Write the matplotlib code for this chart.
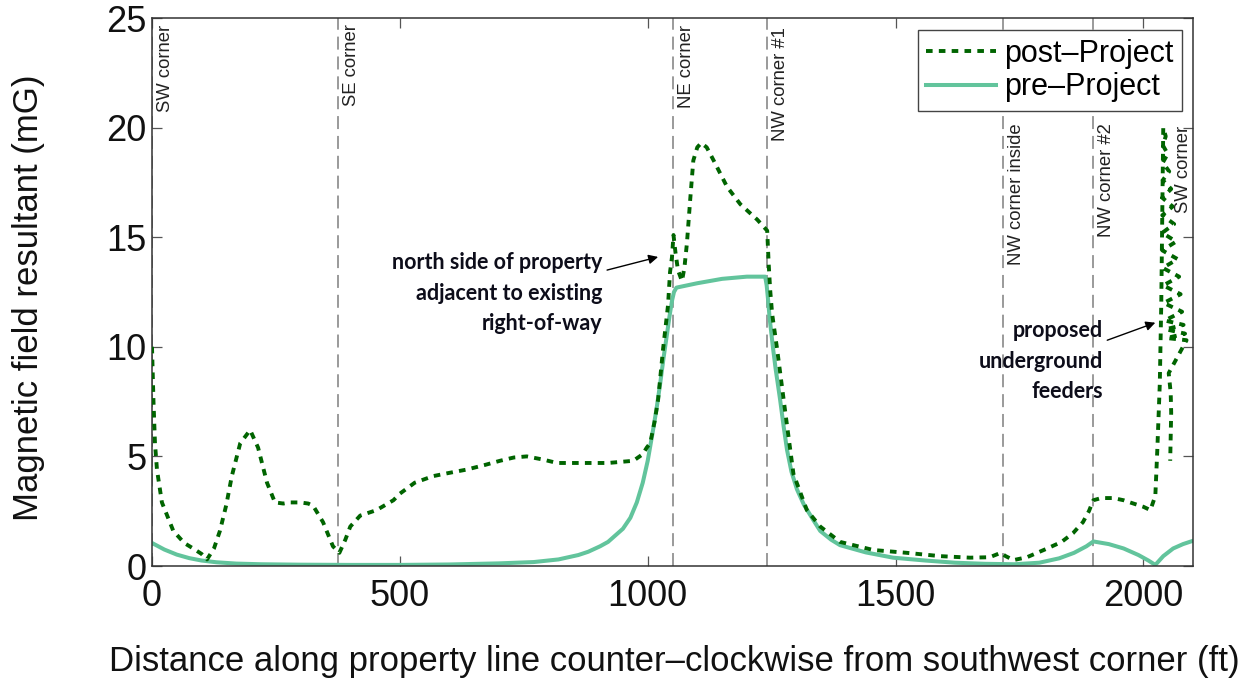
import matplotlib
matplotlib.use("Agg")
import matplotlib.pyplot as plt

plt.rcParams['font.family'] = ['Liberation Sans', 'DejaVu Sans']

# ---------------- data ----------------
pre_x = [0, 25, 50, 75, 100, 130, 170, 220, 300, 400, 500, 600, 700, 770, 820, 860, 880,
         904, 920, 950, 965, 978, 990, 1000, 1010, 1018, 1025, 1032, 1039, 1044, 1049,
         1053, 1058, 1100, 1150, 1200, 1237, 1240, 1243, 1246, 1253, 1258, 1267, 1274,
         1281, 1290, 1301, 1315, 1334, 1348, 1370, 1388, 1440, 1495, 1560, 1620, 1680,
         1740, 1790, 1830, 1860, 1885, 1899, 1930, 1960, 1990, 2010, 2024, 2040, 2060,
         2080, 2100]
pre_y = [1.05, 0.75, 0.52, 0.36, 0.25, 0.17, 0.11, 0.08, 0.06, 0.05, 0.05, 0.07, 0.12,
         0.18, 0.3, 0.5, 0.65, 0.9, 1.1, 1.7, 2.2, 2.9, 3.8, 4.8, 6.1, 7.2, 8.3, 9.5, 10.6,
         11.4, 12.1, 12.5, 12.7, 12.9, 13.1, 13.2, 13.2, 12.8, 12.1, 11.3, 9.9, 9.0, 7.6,
         6.4, 5.3, 4.3, 3.5, 2.8, 2.1, 1.6, 1.2, 0.95, 0.62, 0.38, 0.25, 0.15, 0.1, 0.08,
         0.15, 0.35, 0.6, 0.9, 1.12, 1.0, 0.8, 0.5, 0.25, 0.05, 0.45, 0.8, 1.0, 1.15]

post_x = [0, 3, 6, 10, 20, 43, 65, 83, 100, 111, 125, 137, 150, 161, 178, 198, 214, 232,
          248, 265, 278, 299, 315, 325, 345, 365, 378, 390, 400, 420, 453, 487, 500, 530,
          567, 600, 635, 670, 702, 730, 756, 790, 817, 870, 920, 971, 990, 998, 1005, 1014,
          1021, 1031, 1041, 1045, 1049, 1052, 1056, 1061, 1069, 1074, 1079, 1086, 1092,
          1100, 1108, 1119, 1133, 1160, 1187, 1221, 1241, 1244, 1247, 1251, 1261, 1277,
          1294, 1321, 1348, 1388, 1455, 1523, 1590, 1650, 1690, 1712, 1722, 1738, 1765,
          1806, 1835, 1858, 1878, 1890, 1899, 1915, 1939, 1960, 1973, 2000, 2014, 2024,
          2028, 2033, 2036, 2038, 2040,
          2045, 2039, 2049, 2039, 2052, 2039, 2056, 2038, 2059, 2038, 2062, 2038, 2066,
          2038, 2069, 2039, 2072, 2040, 2075, 2041, 2078, 2043, 2081, 2045, 2084, 2047,
          2087, 2051, 2055, 2056, 2055, 2054]
post_y = [10.0, 7.5, 5.6, 4.4, 2.9, 1.6, 1.05, 0.8, 0.55, 0.3, 0.8, 1.6, 2.8, 4.1, 5.6,
          6.2, 5.4, 3.8, 2.9, 2.85, 2.9, 2.9, 2.85, 2.75, 2.0, 0.9, 0.6, 1.2, 1.8, 2.3, 2.55,
          3.0, 3.3, 3.8, 4.1, 4.25, 4.4, 4.6, 4.8, 4.95, 5.0, 4.85, 4.7, 4.7, 4.7, 4.8, 5.1,
          5.4, 5.6, 6.6, 7.6, 9.9, 11.9, 13.4, 14.1, 15.1, 14.3, 13.5, 13.0, 13.6, 14.7,
          16.8, 18.5, 19.1, 19.3, 19.1, 18.5, 17.3, 16.5, 15.8, 15.3, 13.8, 12.6, 11.5, 9.9,
          7.1, 4.2, 2.55, 1.8, 1.1, 0.73, 0.6, 0.45, 0.38, 0.4, 0.6, 0.45, 0.27, 0.4, 0.8,
          1.1, 1.5, 2.0, 2.5, 3.0, 3.1, 3.1, 3.0, 2.9, 2.7, 2.55, 3.2, 5.3, 8.3, 12.0, 16.0,
          20.0,
          19.6, 19.2, 18.8, 18.4, 18.0, 17.6, 17.2, 16.8, 16.4, 16.0, 15.6, 15.2, 14.8,
          14.4, 14.0, 13.6, 13.2, 12.8, 12.4, 12.0, 11.6, 11.2, 11.0, 10.8, 10.6, 10.4,
          10.3, 8.8, 7.9, 7.0, 6.0, 4.8]

corner_x = [0, 375, 1051, 1241, 1717, 1899, 2100]
corner_labels = ['SW corner', 'SE corner', 'NE corner', 'NW corner #1',
                 'NW corner inside', 'NW corner #2', 'SW corner']
corner_label_y = [24.7, 24.7, 24.7, 24.6, 20.2, 20.2, 20.1]

x_ticks = [0, 500, 1000, 1500, 2000]
y_ticks = [0, 5, 10, 15, 20, 25]

# ---------------- figure ----------------
fig = plt.figure(figsize=(12.56, 6.83), dpi=100)
ax = fig.add_axes([152/1256, 1 - 566/683, (1193-152)/1256, (566-18)/683])

for xc in corner_x[:-1]:
    ax.axvline(xc, color='#7f7f7f', lw=1.1, dashes=(8.5, 4.5), zorder=1)

post_color = '#006400'
pre_color = '#62c49c'
l_pre, = ax.plot(pre_x, pre_y, color=pre_color, lw=2.9, zorder=2,
                 solid_joinstyle='round', label='pre–Project')
l_post, = ax.plot(post_x, post_y, color=post_color, lw=2.8, dashes=(1.7, 1.6), zorder=3,
                  label='post–Project')

for i, (xc, lab, yl) in enumerate(zip(corner_x, corner_labels, corner_label_y)):
    if i == len(corner_x) - 1:
        ax.text(xc - 3, yl, lab, rotation=90, ha='right', va='top', fontsize=13.3,
                color='#222222', zorder=4)
    else:
        ax.text(xc + 10, yl, lab, rotation=90, ha='left', va='top', fontsize=13.3,
                color='#222222', zorder=4)

ax.set_xlim(0, 2100)
ax.set_ylim(0, 25)
ax.set_xticks(x_ticks)
ax.set_yticks(y_ticks)
ax.tick_params(direction='in', length=7, width=0.9, colors='#555555', labelcolor='#111111',
               labelsize=26, top=True, right=True)
ax.tick_params(axis='x', pad=9)
ax.tick_params(axis='y', pad=4)
for s in ax.spines.values():
    s.set_color('#333333')
    s.set_linewidth(1.1)

ax.set_xlabel('Distance along property line counter–clockwise from southwest corner (ft)',
              fontsize=25, color='#111111')
ax.set_ylabel('Magnetic field resultant (mG)', fontsize=25, color='#111111')
ax.xaxis.set_label_coords(0.502, (566 - 645) / 548)
ax.yaxis.set_label_coords((45 - 152) / 1041, 0.49)

leg = ax.legend(handles=[l_post, l_pre], loc='upper right',
                bbox_to_anchor=((1182-152)/1041, (566-30)/548), borderaxespad=0,
                fontsize=22, handlelength=2.3, handletextpad=0.25, labelspacing=0.12,
                borderpad=0.28, fancybox=False, framealpha=1, edgecolor='#444444')
leg.get_frame().set_linewidth(1.0)
leg.set_zorder(5)

ann_font = dict(family=['Lato', 'DejaVu Sans'], fontweight='bold', fontsize=15.5,
                color='#0d0d1a', linespacing=1.55)
ax.text(908, 12.45, 'north side of property\nadjacent to existing\nright-of-way',
        ha='right', va='center', multialignment='right', zorder=6, **ann_font)
ax.annotate('', xy=(1021, 14.1), xytext=(918, 13.5),
            arrowprops=dict(arrowstyle='-|>', color='black', lw=1.0,
                            mutation_scale=14, shrinkA=0, shrinkB=0), zorder=6)
ax.text(1919, 9.35, 'proposed\nunderground\nfeeders',
        ha='right', va='center', multialignment='right', zorder=6, **ann_font)
ax.annotate('', xy=(2024, 11.1), xytext=(1927, 10.3),
            arrowprops=dict(arrowstyle='-|>', color='black', lw=1.0,
                            mutation_scale=14, shrinkA=0, shrinkB=0), zorder=6)

fig.savefig('out.png', dpi=100)
